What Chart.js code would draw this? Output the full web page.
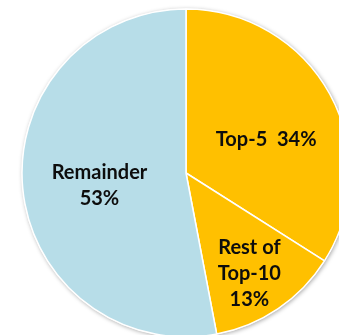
<!DOCTYPE html>
<html>
<head>
<meta charset="utf-8">
<script src="https://cdn.jsdelivr.net/npm/chart.js@4"></script>
<style>
html,body{margin:0;padding:0;background:#fff;}
#wrap{width:339px;height:335px;position:relative;}
</style>
</head>
<body>
<div id="wrap"><canvas id="c" width="339" height="335"></canvas></div>
<script>
const categories = ["Top-5", "Rest of Top-10", "Remainder"];
const values = [34, 13, 53];
const labelLines = [["Top-5  34%"], ["Rest of", "Top-10", "13%"], ["Remainder", "53%"]];
const colors = ["#FFC000", "#FFC000", "#B7DDE8"];

// label placement: fraction of radius along slice mid-angle, plus pixel nudge
const labelPlace = [
  {f: 0.53, dx: 4, dy: 8},
  {f: 0.72, dx: -3, dy: 3},
  {f: 0.53, dx: 0, dy: 4}
];

const shadowPlugin = {
  id: 'pieShadow',
  beforeDatasetsDraw(chart) {
    const arc = chart.getDatasetMeta(0).data[0];
    if (!arc) return;
    const ctx = chart.ctx;
    ctx.save();
    ctx.shadowColor = 'rgba(0,0,0,0.35)';
    ctx.shadowBlur = 4;
    ctx.shadowOffsetX = 1;
    ctx.shadowOffsetY = 1;
    ctx.fillStyle = '#ffffff';
    ctx.beginPath();
    ctx.arc(arc.x, arc.y, arc.outerRadius + 0.5, 0, Math.PI * 2);
    ctx.fill();
    ctx.restore();
  }
};

const labelPlugin = {
  id: 'sliceLabels',
  afterDatasetsDraw(chart) {
    const ctx = chart.ctx;
    const meta = chart.getDatasetMeta(0);
    ctx.save();
    ctx.font = 'bold 20px Lato, "Open Sans", sans-serif';
    ctx.fillStyle = '#0d0d0d';
    ctx.textAlign = 'center';
    ctx.textBaseline = 'middle';
    const lh = 26;
    meta.data.forEach((arc, i) => {
      const mid = (arc.startAngle + arc.endAngle) / 2;
      const r = arc.outerRadius * labelPlace[i].f;
      const cx = arc.x + Math.cos(mid) * r + labelPlace[i].dx;
      const cy = arc.y + Math.sin(mid) * r + labelPlace[i].dy;
      const lines = labelLines[i];
      const y0 = cy - (lines.length - 1) * lh / 2;
      lines.forEach((t, k) => ctx.fillText(t, cx, y0 + k * lh));
    });
    ctx.restore();
  }
};

new Chart(document.getElementById('c'), {
  type: 'pie',
  data: {
    labels: categories,
    datasets: [{
      data: values,
      backgroundColor: colors,
      borderColor: '#ffffff',
      borderWidth: 1.5,
      radius: 164
    }]
  },
  options: {
    responsive: false,
    animation: false,
    layout: {padding: {left: 33, right: 0, top: 11, bottom: 0}},
    plugins: {legend: {display: false}, tooltip: {enabled: false}}
  },
  plugins: [shadowPlugin, labelPlugin]
});
</script>
</body>
</html>
